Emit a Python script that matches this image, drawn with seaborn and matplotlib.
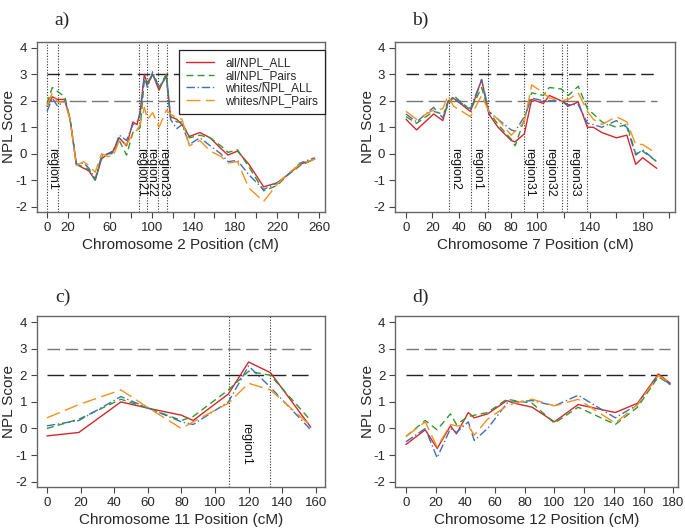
import numpy as np
import pandas as pd
import matplotlib
matplotlib.use("Agg")
import matplotlib.pyplot as plt
from matplotlib.lines import Line2D
import seaborn as sns

# ---------------- data ----------------
series_names = ["all/NPL_ALL", "all/NPL_Pairs", "whites/NPL_ALL", "whites/NPL_Pairs"]

# Panel a: chromosome 2
pos_a = [0, 5, 10, 17, 22, 28, 35, 40, 46, 52, 58, 63, 69, 76, 82, 86, 89, 93, 96, 101,
         107, 114, 118, 124, 129, 136, 146, 156, 166, 173, 182, 193, 207, 220, 230, 242, 256]
a_all_all = [1.8, 2.15, 2.05, 2.05, 1.3, -0.4, -0.55, -0.65, -1.0, -0.2, 0.0, 0.1, 0.6, 0.3, 1.2, 1.1, 1.6, 3.0, 2.6, 3.0,
             2.4, 3.0, 1.4, 1.3, 1.1, 0.65, 0.8, 0.6, 0.2, -0.05, 0.1, -0.4, -1.25, -1.1, -0.8, -0.4, -0.2]
a_all_pairs = [1.9, 2.5, 2.35, 2.15, 1.3, -0.4, -0.5, -0.6, -1.0, -0.15, 0.0, 0.0, 0.5, -0.05, 0.8, 0.9, 1.0, 2.8, 2.7, 3.0,
               2.5, 3.0, 1.4, 1.2, 1.2, 0.6, 0.7, 0.6, 0.3, 0.05, 0.15, -0.5, -1.4, -1.2, -0.8, -0.45, -0.2]
a_wh_all = [1.6, 2.1, 1.8, 2.0, 1.3, -0.4, -0.35, -0.55, -0.95, -0.1, 0.0, 0.05, 0.7, 0.5, 1.1, 1.2, 1.5, 2.9, 2.5, 3.1,
            2.5, 2.9, 1.3, 0.95, 1.1, 0.35, 0.6, 0.3, 0.0, -0.3, -0.25, -0.8, -1.35, -1.1, -0.8, -0.35, -0.15]
a_wh_pairs = [1.8, 2.3, 1.95, 1.95, 1.3, -0.45, -0.3, -0.45, -0.7, 0.0, -0.1, -0.1, 0.5, 0.35, 0.75, 0.9, 1.1, 1.75, 1.3, 1.55,
              1.0, 1.65, 1.5, 1.35, 1.3, 0.3, 0.5, 0.1, -0.1, -0.35, -0.3, -1.3, -1.8, -1.15, -0.75, -0.4, -0.2]
vlines_a = [0, 10.5, 87.5, 95.5, 106.5, 115]
regions_a = [("region1", 5), ("region21", 89.5), ("region22", 99.5), ("region23", 110.5)]

# Panel b: chromosome 7
pos_b = [0, 8, 21, 28, 32, 36, 49, 57.5, 63, 70, 80, 83, 90, 95.6, 104.5, 109, 118, 123.5, 131, 138,
         142.5, 149, 160, 168, 174.7, 180, 190.7]
b_all_all = [1.3, 0.9, 1.5, 1.25, 1.95, 2.1, 1.6, 2.8, 1.5, 1.0, 0.5, 0.45, 0.75, 2.05, 1.9, 2.2, 2.0, 1.8, 1.95, 1.0,
             1.0, 0.8, 0.6, 0.7, -0.4, -0.15, -0.55]
b_all_pairs = [1.4, 1.15, 1.6, 1.5, 1.8, 2.2, 1.65, 2.5, 1.6, 1.1, 0.55, 0.3, 1.3, 2.3, 2.2, 2.5, 2.45, 2.2, 2.55, 1.7,
               1.5, 1.2, 1.0, 1.1, 0.0, 0.1, -0.3]
b_wh_all = [1.5, 1.2, 1.75, 1.35, 2.0, 2.1, 1.7, 2.8, 1.6, 1.3, 0.9, 0.85, 1.4, 2.1, 2.0, 2.0, 2.0, 1.85, 1.85, 1.15,
            1.1, 1.0, 1.25, 1.0, -0.05, 0.15, -0.3]
b_wh_pairs = [1.6, 1.3, 1.65, 1.7, 2.2, 1.8, 1.4, 2.2, 1.6, 1.3, 0.7, 0.85, 1.2, 2.6, 2.3, 2.1, 2.0, 2.05, 2.3, 1.6,
              1.3, 1.1, 1.4, 1.2, 0.35, 0.35, 0.0]
vlines_b = [33.0, 49.4, 62.6, 90.0, 104.0, 118.9, 122.2, 137.9]
regions_b = [("region2", 37.3), ("region1", 53.8), ("region31", 93.8), ("region32", 109.5), ("region33", 127.8)]

# Panel c: chromosome 11
pos_c = [0, 19, 44, 61, 80, 87, 108, 120, 133, 157]
c_all_all = [-0.28, -0.15, 1.0, 0.75, 0.5, 0.3, 1.3, 2.5, 2.1, 0.05]
c_all_pairs = [0.0, 0.35, 1.1, 0.75, 0.3, 0.45, 1.45, 2.15, 2.0, 0.3]
c_wh_all = [0.1, 0.3, 1.2, 0.75, 0.25, 0.15, 1.0, 2.35, 1.55, -0.05]
c_wh_pairs = [0.4, 0.9, 1.45, 0.75, 0.0, 0.25, 0.95, 1.7, 1.45, 0.1]
vlines_c = [108.4, 132.8]
regions_c = [("region1", 118.7)]

# Panel d: chromosome 12
pos_d = [0, 13, 21, 30, 34, 42, 46, 55, 68, 73, 85, 100, 116, 141, 156, 170, 178]
d_all_all = [-0.6, -0.05, -0.75, 0.1, -0.2, 0.6, 0.4, 0.55, 1.05, 0.95, 0.8, 0.25, 0.9, 0.6, 0.95, 2.05, 1.7]
d_all_pairs = [-0.3, 0.3, -0.05, 0.55, 0.15, 0.45, 0.5, 0.6, 1.1, 1.05, 0.95, 0.2, 0.8, 0.15, 0.8, 1.95, 1.65]
d_wh_all = [-0.5, 0.0, -1.1, 0.0, -0.15, 0.25, -0.45, 0.0, 0.95, 1.0, 1.05, 0.85, 1.25, 0.4, 0.9, 2.0, 1.65]
d_wh_pairs = [-0.3, 0.25, -0.7, 0.15, 0.1, 0.1, -0.25, 0.35, 0.85, 0.95, 1.1, 0.85, 1.1, 0.2, 0.9, 2.0, 1.7]
vlines_d = []
regions_d = []

# ---------------- style ----------------
sns.set_theme(style="white")
plt.rcParams["font.family"] = ["Liberation Sans", "DejaVu Sans"]

palette = {"all/NPL_ALL": "#d6262b", "all/NPL_Pairs": "#2f9a2f",
           "whites/NPL_ALL": "#3f6fb5", "whites/NPL_Pairs": "#f7901e"}
dashes = {"all/NPL_ALL": "", "all/NPL_Pairs": (5, 3),
          "whites/NPL_ALL": (6, 2, 1, 2), "whites/NPL_Pairs": (10, 4)}

fig = plt.figure(figsize=(6.85, 5.28), dpi=100)

panels = [
    dict(label="a)", chrom="2", pos=pos_a, vals=[a_all_all, a_all_pairs, a_wh_all, a_wh_pairs],
         vlines=vlines_a, regions=regions_a, rect=[0.0536, 0.5985, 0.4209, 0.3225],
         xlim=(-9.9, 265.7), xticks=list(range(0, 261, 20)), xlabels=[0, 20, 60, 100, 140, 180, 220, 260],
         hl_colors=("#222222", "#777777"), title_xy=(0.080, 0.962)),
    dict(label="b)", chrom="7", pos=pos_b, vals=[b_all_all, b_all_pairs, b_wh_all, b_wh_pairs],
         vlines=vlines_b, regions=regions_b, rect=[0.5766, 0.5985, 0.4088, 0.3225],
         xlim=(-8.4, 204.6), xticks=list(range(0, 201, 20)), xlabels=[0, 20, 40, 60, 80, 100, 140, 180],
         hl_colors=("#222222", "#777777"), title_xy=(0.602, 0.962)),
    dict(label="c)", chrom="11", pos=pos_c, vals=[c_all_all, c_all_pairs, c_wh_all, c_wh_pairs],
         vlines=vlines_c, regions=regions_c, rect=[0.0536, 0.0777, 0.4209, 0.3238],
         xlim=(-6.1, 165.5), xticks=list(range(0, 161, 20)), xlabels=list(range(0, 161, 20)),
         hl_colors=("#777777", "#222222"), title_xy=(0.080, 0.436)),
    dict(label="d)", chrom="12", pos=pos_d, vals=[d_all_all, d_all_pairs, d_wh_all, d_wh_pairs],
         vlines=vlines_d, regions=regions_d, rect=[0.5766, 0.0777, 0.4131, 0.3238],
         xlim=(-7.4, 183.2), xticks=list(range(0, 181, 20)), xlabels=list(range(0, 181, 20)),
         hl_colors=("#777777", "#222222"), title_xy=(0.602, 0.436)),
]

for p in panels:
    ax = fig.add_axes(p["rect"])
    frames = []
    for name, v in zip(series_names, p["vals"]):
        frames.append(pd.DataFrame({"pos": p["pos"], "score": v, "series": name}))
    df = pd.concat(frames, ignore_index=True)

    xmin, xmax = min(p["pos"]), max(p["pos"])
    ax.plot([xmin, xmax], [3, 3], color=p["hl_colors"][0], lw=1.0, dashes=(9, 4), zorder=1)
    ax.plot([xmin, xmax], [2, 2], color=p["hl_colors"][1], lw=1.0, dashes=(12, 4), zorder=1)
    for xv in p["vlines"]:
        ax.axvline(xv, color="#333333", lw=0.8, ls=(0, (1, 1.5)), zorder=1)

    sns.lineplot(data=df, x="pos", y="score", hue="series", style="series",
                 hue_order=series_names, style_order=series_names,
                 palette=palette, dashes=dashes, estimator=None, sort=False,
                 lw=1.0, legend=False, ax=ax, zorder=3)

    for txt, xv in p["regions"]:
        ax.text(xv, 0.2, txt, rotation=270, ha="center", va="top", fontsize=9, color="#111111")

    ax.set_xlim(*p["xlim"])
    ax.set_ylim(-2.2, 4.23)
    ax.set_yticks([-2, -1, 0, 1, 2, 3, 4])
    ax.set_yticklabels(["-2", "-1", "0", "1", "2", "3", "4"])
    ax.set_xticks(p["xticks"])
    ax.set_xticklabels([str(t) if t in p["xlabels"] else "" for t in p["xticks"]])
    ax.tick_params(axis="both", which="major", direction="out", length=4, width=0.8,
                   color="#444444", labelsize=9.5, pad=3, bottom=True, left=True)
    for s in ax.spines.values():
        s.set_color("#666666")
        s.set_linewidth(1.0)
    ax.set_xlabel(f"Chromosome {p['chrom']} Position (cM)", fontsize=11, labelpad=3)
    ax.set_ylabel("NPL Score", fontsize=11)
    ax.yaxis.set_label_coords(-0.072, 0.5)
    fig.text(p["title_xy"][0], p["title_xy"][1], p["label"], fontsize=14,
             family=["Liberation Serif", "DejaVu Serif"], ha="left", va="center")

    if p["label"] == "a)":
        handles = []
        for n in series_names:
            h = Line2D([0], [0], color=palette[n], lw=1.0)
            if dashes[n]:
                h.set_dashes(dashes[n])
            handles.append(h)
        leg = ax.legend(handles, series_names, loc="upper right", bbox_to_anchor=(1.0, 0.951),
                        fontsize=8.5, frameon=True, fancybox=False, framealpha=1,
                        edgecolor="#222222", labelspacing=0.05, handlelength=2.4,
                        handletextpad=0.9, borderpad=0.6, borderaxespad=0.0)
        leg.get_frame().set_linewidth(0.9)
        leg.set_zorder(5)

fig.savefig("out.png", dpi=100)
